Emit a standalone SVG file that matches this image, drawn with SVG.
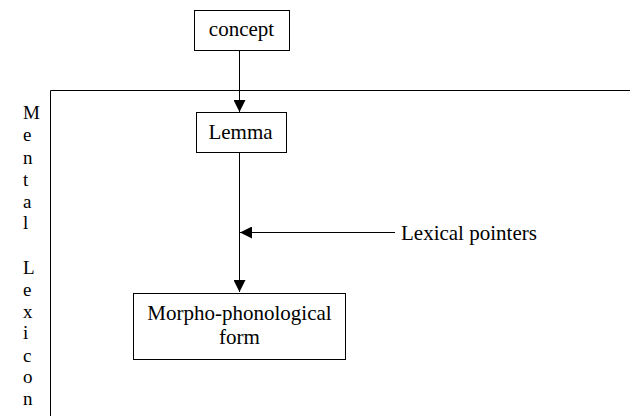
<svg xmlns="http://www.w3.org/2000/svg" width="630" height="416" viewBox="0 0 630 416">
<defs>
<style>
text{font-family:"Liberation Serif","Times New Roman",serif;font-size:21px;fill:#000}
.v{font-size:19px}
.box{fill:#fff;stroke:#000;stroke-width:1}
.ln{stroke:#000;stroke-width:1;fill:none}
</style>
<marker id="arr" viewBox="0 0 12 12" refX="12" refY="6" markerWidth="12" markerHeight="12" markerUnits="userSpaceOnUse" orient="auto">
<path d="M0,0 L12,6 L0,12 Z" fill="#000"/>
</marker>
</defs>
<rect width="630" height="416" fill="#fff"/>
<g id="lexicon">
<path class="ln" d="M50.5,416 V90.5 H630"/>
<text class="v" x="23" y="119">M</text>
<text class="v" x="23" y="141">e</text>
<text class="v" x="23" y="164">n</text>
<text class="v" x="23" y="186">t</text>
<text class="v" x="23" y="208">a</text>
<text class="v" x="23" y="229">l</text>
<text class="v" x="23" y="274">L</text>
<text class="v" x="23" y="296">e</text>
<text class="v" x="23" y="318">x</text>
<text class="v" x="23" y="339">i</text>
<text class="v" x="23" y="362">c</text>
<text class="v" x="23" y="383">o</text>
<text class="v" x="23" y="405">n</text>
</g>
<g id="connectors">
<line class="ln" x1="239.5" y1="50" x2="239.5" y2="112" marker-end="url(#arr)"/>
<line class="ln" x1="239.5" y1="152" x2="239.5" y2="292" marker-end="url(#arr)"/>
<line class="ln" x1="395" y1="232.5" x2="240" y2="232.5" marker-end="url(#arr)"/>
</g>
<g id="concept">
<rect class="box" x="194.5" y="10.5" width="95" height="40"/>
<text x="241.5" y="36" text-anchor="middle">concept</text>
</g>
<g id="lemma">
<rect class="box" x="196.5" y="112.5" width="90" height="40"/>
<text x="240.5" y="139" text-anchor="middle">Lemma</text>
</g>
<g id="pointers">
<text x="401" y="240">Lexical pointers</text>
</g>
<g id="form">
<rect class="box" x="133.5" y="293.5" width="212" height="66"/>
<text x="239.5" y="320" text-anchor="middle">Morpho-phonological</text>
<text x="239.5" y="344" text-anchor="middle">form</text>
</g>
</svg>
